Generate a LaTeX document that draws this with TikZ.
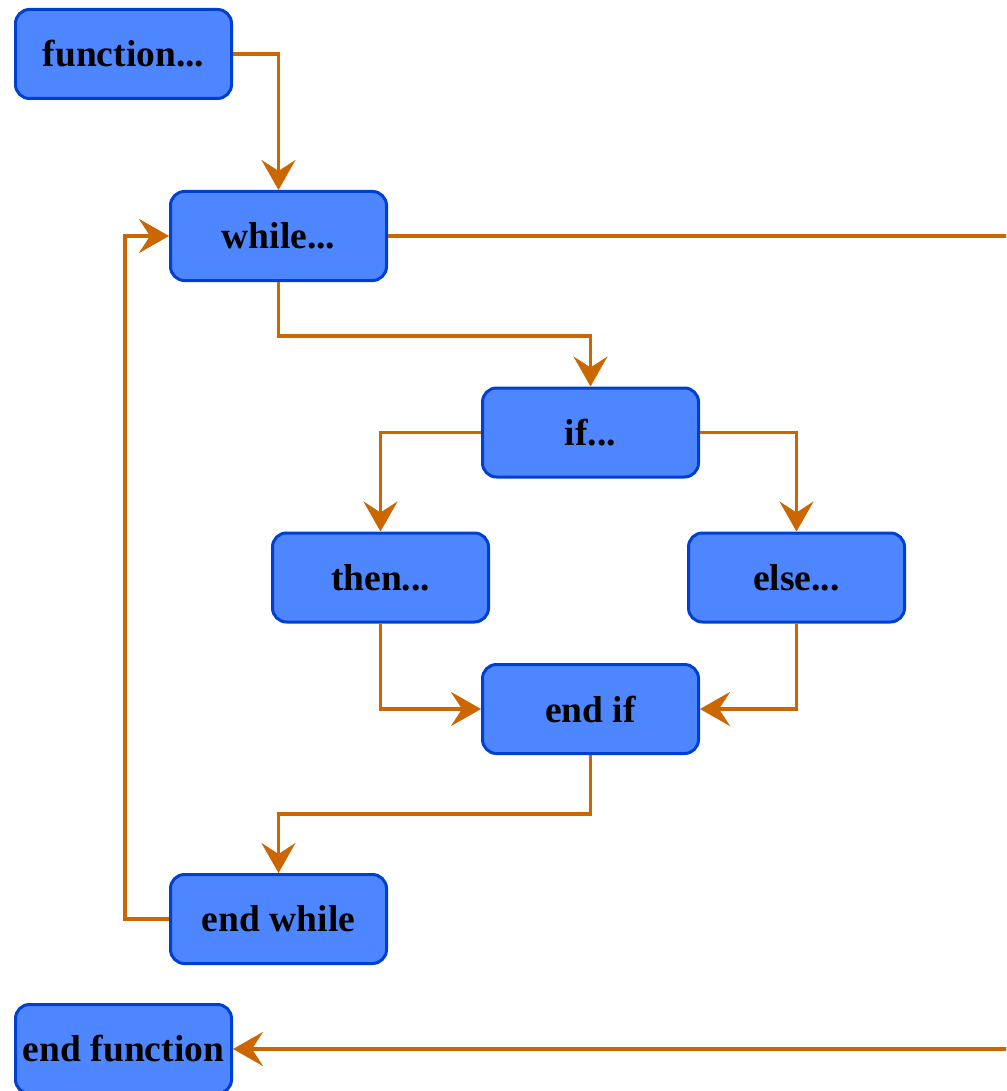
\documentclass[tikz,border=0pt]{standalone}
\usepackage{fontspec}
\setmainfont{Liberation Serif}
\usetikzlibrary{arrows.meta}
\definecolor{boxfill}{RGB}{77,134,255}
\definecolor{boxline}{RGB}{0,64,208}
\definecolor{flowc}{RGB}{204,102,0}
\begin{document}
\begin{tikzpicture}[x=1pt,y=-1pt,
  box/.style={draw=boxline, fill=boxfill, line width=3pt, rounded corners=14pt,
    minimum width=216pt, minimum height=89pt, inner sep=0pt,
    font=\fontsize{37.5}{42}\selectfont\bfseries},
  flow/.style={draw=flowc, line width=3.3pt, -{Stealth[length=30pt,width=34pt,inset=11pt]}}]
\path[use as bounding box] (0,0) rectangle (1006,1091);
\clip (0,0) rectangle (1006,1091);
\node[box] (fn) at (123.5,54) {function...};
\node[box] (wh) at (278.5,236) {while...};
\node[box] (if) at (590.5,432.5) {if...};
\node[box] (th) at (380.5,577.5) {then...};
\node[box] (el) at (796.5,577.5) {else...};
\node[box] (ei) at (590.5,709) {end if};
\node[box] (ew) at (278.5,919) {end while};
\node[box] (ef) at (123.5,1049) {end function};
\coordinate (rt) at (1030,236);
\draw[flow] (fn.east) -| (wh.north);
\draw[flow] (wh.east) -- (rt) |- (ef.east);
\draw[flow] (wh.south) -- ++(0,54) -| (if.north);
\draw[flow] (if.west) -| (th.north);
\draw[flow] (if.east) -| (el.north);
\draw[flow] (th.south) |- (ei.west);
\draw[flow] (el.south) |- (ei.east);
\draw[flow] (ei.south) -- ++(0,59) -| (ew.north);
\draw[flow] (ew.west) -- ++(-44,0) |- (wh.west);
\end{tikzpicture}
\end{document}
